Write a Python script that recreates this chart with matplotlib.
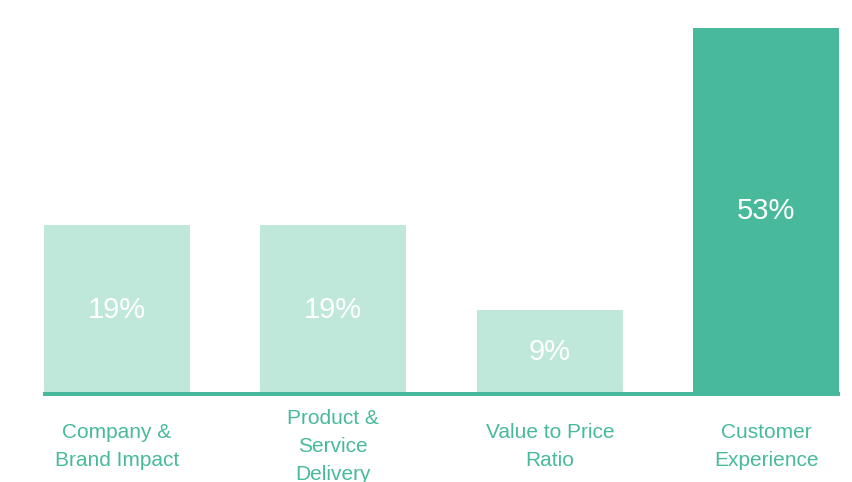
import matplotlib
matplotlib.use('Agg')
import matplotlib.pyplot as plt
import matplotlib.transforms as transforms

categories = ["Company &\nBrand Impact", "Product &\nService\nDelivery",
              "Value to Price\nRatio", "Customer\nExperience"]
heights = [24, 24, 12, 52]
value_labels = ["19%", "19%", "9%", "53%"]

LIGHT = "#C0E8DA"
DARK = "#48BA9B"
colors = [LIGHT, LIGHT, LIGHT, DARK]

plt.rcParams['font.family'] = ['Liberation Sans', 'DejaVu Sans']

fig = plt.figure(figsize=(8.53, 4.82), dpi=100)
ax = fig.add_axes([43 / 853, 88 / 482, 797 / 853, 366 / 482])

x = list(range(len(categories)))
bars = ax.bar(x, heights, width=0.674, color=colors, zorder=1)

ax.set_xlim(-0.34, len(categories) - 1 + 0.34)
ax.set_ylim(0, max(heights))

for b, lab in zip(bars, value_labels):
    ax.text(b.get_x() + b.get_width() / 2, b.get_height() / 2, lab,
            ha='center', va='center', color='white', fontsize=21)

trans = transforms.blended_transform_factory(ax.transData, fig.transFigure)
for xi, cat in zip(x, categories):
    ax.text(xi, 36 / 482, cat, transform=trans, ha='center', va='center',
            color=DARK, fontsize=15, linespacing=1.6)

for s in ['top', 'left', 'right']:
    ax.spines[s].set_visible(False)
ax.spines['bottom'].set_color(DARK)
ax.spines['bottom'].set_linewidth(2.9)
ax.spines['bottom'].set_capstyle('butt')
ax.spines['bottom'].set_zorder(3)
ax.set_xticks([])
ax.set_yticks([])

fig.savefig("out.png", dpi=100)
